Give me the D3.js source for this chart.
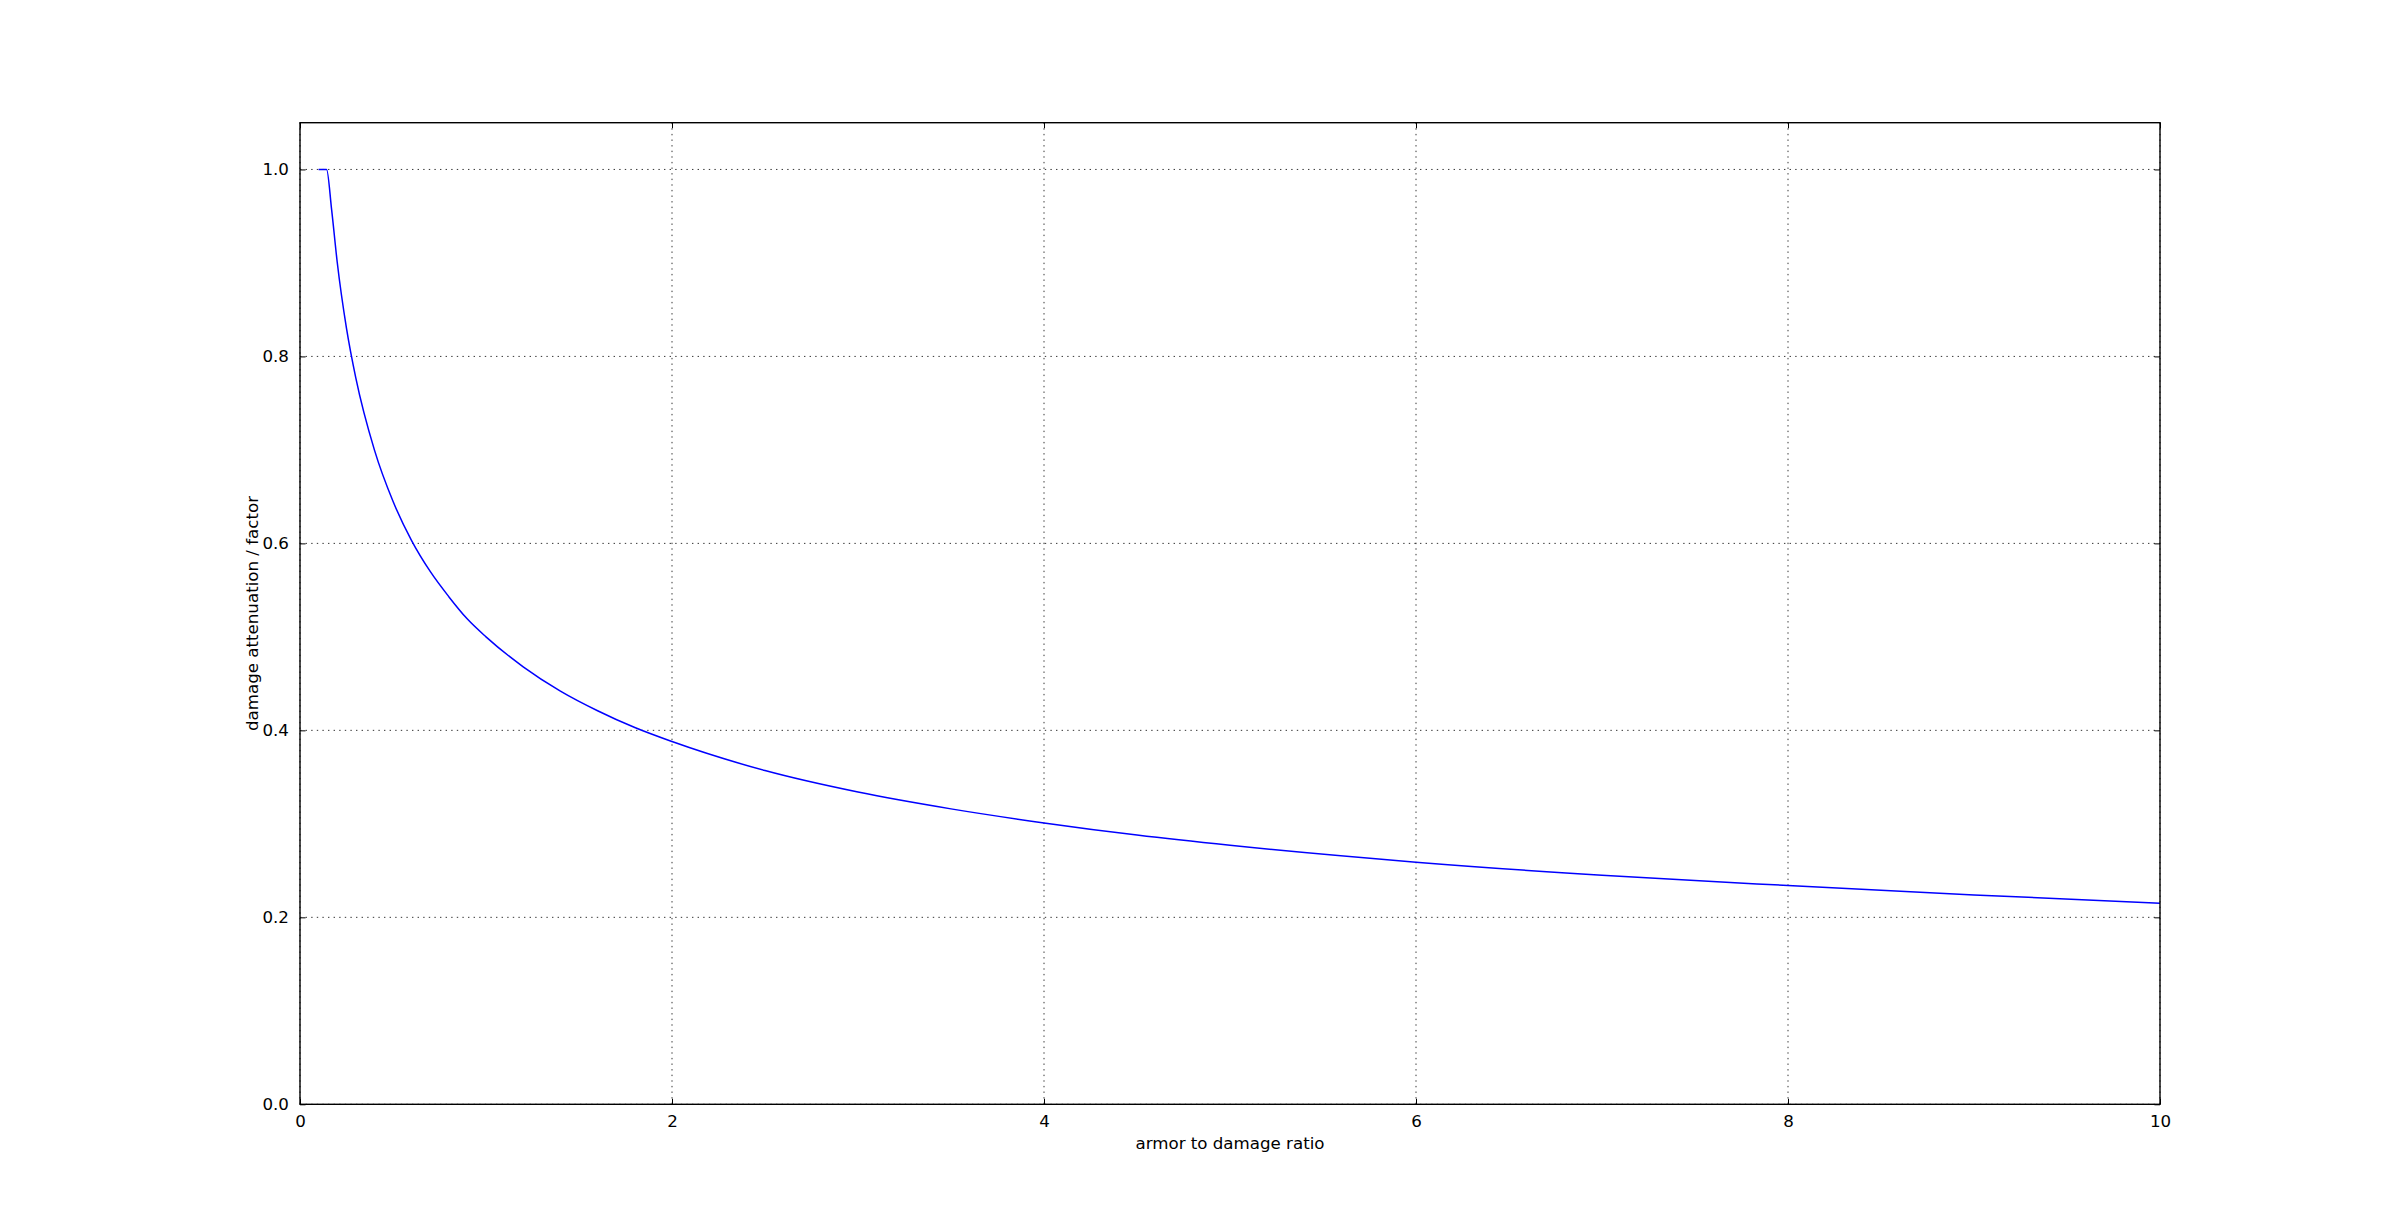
<!DOCTYPE html>
<html>
<head>
<meta charset="utf-8">
<script src="https://cdn.jsdelivr.net/npm/d3@7"></script>
<style>
  html, body { margin: 0; padding: 0; background: #fff; }
  svg { display: block; }
  text { font-family: "DejaVu Sans", sans-serif; fill: #000; }
</style>
</head>
<body>
<svg id="chart" width="2400" height="1227"></svg>
<script>
// Data
const ratio = [0.1, 0.143, 0.17, 0.2, 0.25, 0.3, 0.4, 0.5, 0.6, 0.7, 0.8, 0.9, 1.0, 1.2, 1.4, 1.6, 1.8, 2.0, 2.5, 3.0, 3.5, 4.0, 4.5, 5.0, 6.0, 7.0, 8.0, 9.0, 10.0];
const attenuation = [1.0, 1.0, 0.957, 0.901, 0.830, 0.777, 0.700, 0.645, 0.603, 0.570, 0.543, 0.519, 0.500, 0.468, 0.442, 0.421, 0.403, 0.388, 0.357, 0.334, 0.316, 0.301, 0.288, 0.277, 0.259, 0.245, 0.234, 0.224, 0.215];
const xTicks = [0, 2, 4, 6, 8, 10];
const yTicks = [0.0, 0.2, 0.4, 0.6, 0.8, 1.0];
const xLabel = "armor to damage ratio";
const yLabel = "damage attenuation / factor";

(function () {
const pL = 300, pR = 2160, pT = 122.7, pB = 1104.3;
const fs = 16.67, tickLen = 5.56, pad = 5.56;

const svg = d3.select("#chart");
const x = d3.scaleLinear().domain([0, 10]).range([pL, pR]);
const y = d3.scaleLinear().domain([0, 1.05]).range([pB, pT]);

// grid
const grid = svg.append("g");
grid.selectAll("line.gx").data(xTicks).join("line")
  .attr("class", "gx")
  .attr("x1", d => x(d)).attr("x2", d => x(d))
  .attr("y1", pT).attr("y2", pB)
  .attr("stroke", "#000").attr("stroke-width", 0.8).attr("stroke-dasharray", "1.4,4.2");
grid.selectAll("line.gy").data(yTicks).join("line")
  .attr("class", "gy")
  .attr("y1", d => y(d)).attr("y2", d => y(d))
  .attr("x1", pL).attr("x2", pR)
  .attr("stroke", "#000").attr("stroke-width", 0.8).attr("stroke-dasharray", "1.4,4.2");

// data line
const pts = ratio.map((r, i) => [r, attenuation[i]]);
svg.append("path")
  .datum(pts)
  .attr("fill", "none")
  .attr("stroke", "#0000ff")
  .attr("stroke-width", 1.5)
  .attr("d", d3.line().x(d => x(d[0])).y(d => y(d[1])).curve(d3.curveMonotoneX));

// axes with inward ticks on all sides
const bottomAxis = d3.axisBottom(x).tickValues(xTicks).tickFormat(d3.format("d"))
  .tickSizeInner(-tickLen).tickSizeOuter(0).tickPadding(pad + tickLen);
const topAxis = d3.axisTop(x).tickValues(xTicks).tickFormat("")
  .tickSizeInner(-tickLen).tickSizeOuter(0);
const leftAxis = d3.axisLeft(y).tickValues(yTicks).tickFormat(d3.format(".1f"))
  .tickSizeInner(-tickLen).tickSizeOuter(0).tickPadding(pad + tickLen);
const rightAxis = d3.axisRight(y).tickValues(yTicks).tickFormat("")
  .tickSizeInner(-tickLen).tickSizeOuter(0);

function style(g) {
  g.select(".domain").remove();
  g.selectAll(".tick line").attr("stroke", "#000").attr("stroke-width", 1);
  g.selectAll(".tick text").attr("font-size", fs).attr("font-family", "DejaVu Sans").attr("fill", "#000");
}
svg.append("g").attr("transform", `translate(0,${pB})`).call(bottomAxis).call(style);
svg.append("g").attr("transform", `translate(0,${pT})`).call(topAxis).call(style);
svg.append("g").attr("transform", `translate(${pL},0)`).call(leftAxis).call(style);
svg.append("g").attr("transform", `translate(${pR},0)`).call(rightAxis).call(style);

// frame
svg.append("rect")
  .attr("x", pL).attr("y", pT)
  .attr("width", pR - pL).attr("height", pB - pT)
  .attr("fill", "none").attr("stroke", "#000").attr("stroke-width", 1.4);

// axis labels
svg.append("text")
  .attr("x", (pL + pR) / 2).attr("y", 1149)
  .attr("text-anchor", "middle").attr("font-size", fs)
  .text(xLabel);
svg.append("text")
  .attr("transform", `translate(258,${(pT + pB) / 2}) rotate(-90)`)
  .attr("text-anchor", "middle").attr("font-size", fs)
  .text(yLabel);
})();
</script>
</body>
</html>
